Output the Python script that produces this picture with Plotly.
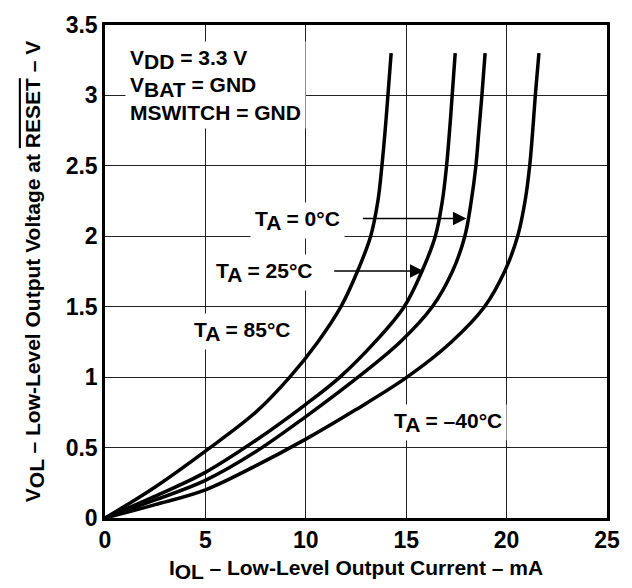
import plotly.graph_objects as go

# Curves: I_OL (mA) vs V_OL (V)
i_85 = [0, 1, 2.5, 5, 7.5, 9.2, 10.6, 11.75, 12.57, 13.23, 13.59, 13.79, 13.95, 14.09, 14.25]
v_85 = [0, 0.085, 0.22, 0.475, 0.75, 1.0, 1.25, 1.5, 1.75, 2.0, 2.25, 2.5, 2.75, 3.0, 3.3]

i_25 = [0, 2.5, 5, 7.5, 10, 11.7, 13.45, 14.9, 15.78, 16.45, 16.8, 17.01, 17.16, 17.29, 17.44]
v_25 = [0, 0.155, 0.324, 0.55, 0.807, 1.0, 1.25, 1.5, 1.75, 2.0, 2.25, 2.5, 2.75, 3.0, 3.3]

i_0 = [0, 2.5, 5, 7.5, 10, 12.6, 14.7, 16.3, 17.3, 17.92, 18.24, 18.47, 18.62, 18.77, 18.93]
v_0 = [0, 0.128, 0.267, 0.47, 0.72, 1.0, 1.25, 1.5, 1.75, 2.0, 2.25, 2.5, 2.75, 3.0, 3.3]

i_m40 = [0, 2.5, 5, 7.5, 10, 12.5, 15.04, 17.25, 18.9, 19.9, 20.55, 20.92, 21.15, 21.3, 21.43, 21.61]
v_m40 = [0, 0.095, 0.2, 0.37, 0.56, 0.77, 1.0, 1.25, 1.5, 1.75, 2.0, 2.25, 2.5, 2.75, 3.0, 3.3]

x_ticks = [0, 5, 10, 15, 20, 25]
y_ticks = [0, 0.5, 1, 1.5, 2, 2.5, 3, 3.5]
y_tick_labels = ["0", "0.5", "1", "1.5", "2", "2.5", "3", "3.5"]

FONT = "Liberation Sans, Arial, Helvetica, sans-serif"
FS = 21

def sub(s):
    return '<sub><span style="font-size:%dpx">%s</span></sub>' % (FS, s)

fig = go.Figure()
for name, xs, ys in [("T_A = 85°C", i_85, v_85), ("T_A = 25°C", i_25, v_25),
                     ("T_A = 0°C", i_0, v_0), ("T_A = -40°C", i_m40, v_m40)]:
    fig.add_trace(go.Scatter(x=xs, y=ys, mode="lines", name=name,
                             line=dict(color="black", width=3.5, shape="spline", smoothing=1.0),
                             showlegend=False, hoverinfo="skip"))

ann_font = dict(family=FONT, size=FS, color="black", weight="bold")

annotations = [
    dict(x=0.99, y=3.385, xref="x", yref="y", xanchor="left", yanchor="top", align="left",
         text="V" + sub("DD") + " = 3.3 V<br>V" + sub("BAT") + " = GND<br>MSWITCH = GND",
         showarrow=False, bgcolor="white", borderpad=4, font=ann_font),
    dict(x=9.57, y=2.11, xref="x", yref="y", text="T" + sub("A") + " = 0°C",
         showarrow=False, bgcolor="white", borderpad=4, font=ann_font),
    dict(x=7.94, y=1.74, xref="x", yref="y", text="T" + sub("A") + " = 25°C",
         showarrow=False, bgcolor="white", borderpad=4, font=ann_font),
    dict(x=6.85, y=1.325, xref="x", yref="y", text="T" + sub("A") + " = 85°C",
         showarrow=False, bgcolor="white", borderpad=4, font=ann_font),
    dict(x=17.06, y=0.677, xref="x", yref="y", text="T" + sub("A") + " = –40°C",
         showarrow=False, bgcolor="white", borderpad=4, font=ann_font),
    # arrows
    dict(x=18.0, y=2.126, ax=12.77, ay=2.126, xref="x", yref="y", axref="x", ayref="y",
         text="", showarrow=True, arrowhead=2, arrowsize=1.8, arrowwidth=1.5, arrowcolor="black"),
    dict(x=15.86, y=1.753, ax=11.34, ay=1.753, xref="x", yref="y", axref="x", ayref="y",
         text="", showarrow=True, arrowhead=2, arrowsize=1.8, arrowwidth=1.5, arrowcolor="black"),
]

tick_font = dict(family=FONT, size=23, color="black", weight="bold")
title_font = dict(family=FONT, size=FS, color="black", weight="bold")

fig.update_layout(
    width=632, height=588,
    margin=dict(l=105, r=20, t=16, b=65),
    paper_bgcolor="white", plot_bgcolor="white",
    annotations=annotations,
    xaxis=dict(range=[0, 25], tickvals=x_ticks, ticktext=[str(v) for v in x_ticks],
               showgrid=True, gridcolor="#222", gridwidth=1, zeroline=False,
               showline=True, linecolor="black", linewidth=2.5, mirror=True,
               ticks="", tickfont=tick_font,
               title=dict(text="I" + sub("OL") + " – Low-Level Output Current – mA",
                          font=title_font, standoff=8)),
    yaxis=dict(range=[0, 3.5], tickvals=y_ticks, ticktext=y_tick_labels,
               showgrid=True, gridcolor="#222", gridwidth=1, zeroline=False,
               showline=True, linecolor="black", linewidth=2.5, mirror=True,
               ticks="", tickfont=tick_font,
               title=dict(text="V" + sub("OL") + " – Low-Level Output Voltage at "
                          '<span style="text-decoration:overline">RESET</span> – V',
                          font=title_font, standoff=20)),
)

fig.write_html("out.html")
